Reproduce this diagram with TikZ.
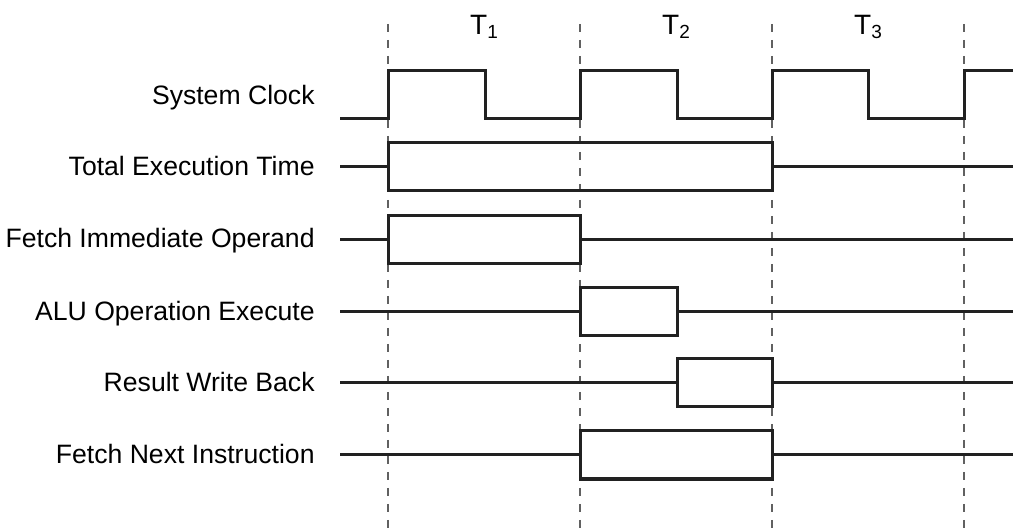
\documentclass[tikz,border=0pt]{standalone}
\usepackage{fontspec}
\setmainfont{Liberation Sans}
\begin{document}
\begin{tikzpicture}[x=0.5pt,y=-0.5pt,line join=miter,font=\fontsize{13.3}{15}\selectfont,
	sig/.style={line width=1.5pt,draw=black!87},
	tickline/.style={line width=1pt,draw=black!62,dash pattern=on 4pt off 4pt},
	every node/.style={inner sep=0pt}]
		\useasboundingbox (0,0) rectangle (1013,529);
		\foreach \x in {388,580,772,964} \draw[tickline] (\x,24)--(\x,529);
		\foreach \x/\n in {484/1,676/2,868/3}
		\node[anchor=base,font=\fontsize{14}{16}\selectfont] (T\n) at (\x,35) {T\raisebox{-2pt}{\fontsize{9.5}{10}\selectfont\n}};
		\node[anchor=base east] (clk) at (315,105) {System Clock};
		\node[anchor=base east] (total) at (315,176) {Total Execution Time};
		\node[anchor=base east] (fetchop) at (315,248) {Fetch Immediate Operand};
		\node[anchor=base east] (alu) at (315,321) {ALU Operation Execute};
		\node[anchor=base east] (wb) at (315,392) {Result Write Back};
		\node[anchor=base east] (fetchnext) at (315,464) {Fetch Next Instruction};
		\draw[sig] (340,119)--(388,119)--(388,71)--(485,71)--(485,119)--(580,119)--(580,71)
		--(677,71)--(677,119)--(772,119)--(772,71)--(868,71)--(868,119)--(964,119)--(964,71)--(1013,71);
		\foreach \y/\a/\b in {167/388/772,240/388/580,312/580/677,383/677/772,455/580/772}
		{\draw[sig] (340,\y)--(\a,\y);
		\draw[sig] (\a,\y-24) rectangle (\b,\y+24);
		\draw[sig] (\b,\y)--(1013,\y);}
\end{tikzpicture}
\end{document}
